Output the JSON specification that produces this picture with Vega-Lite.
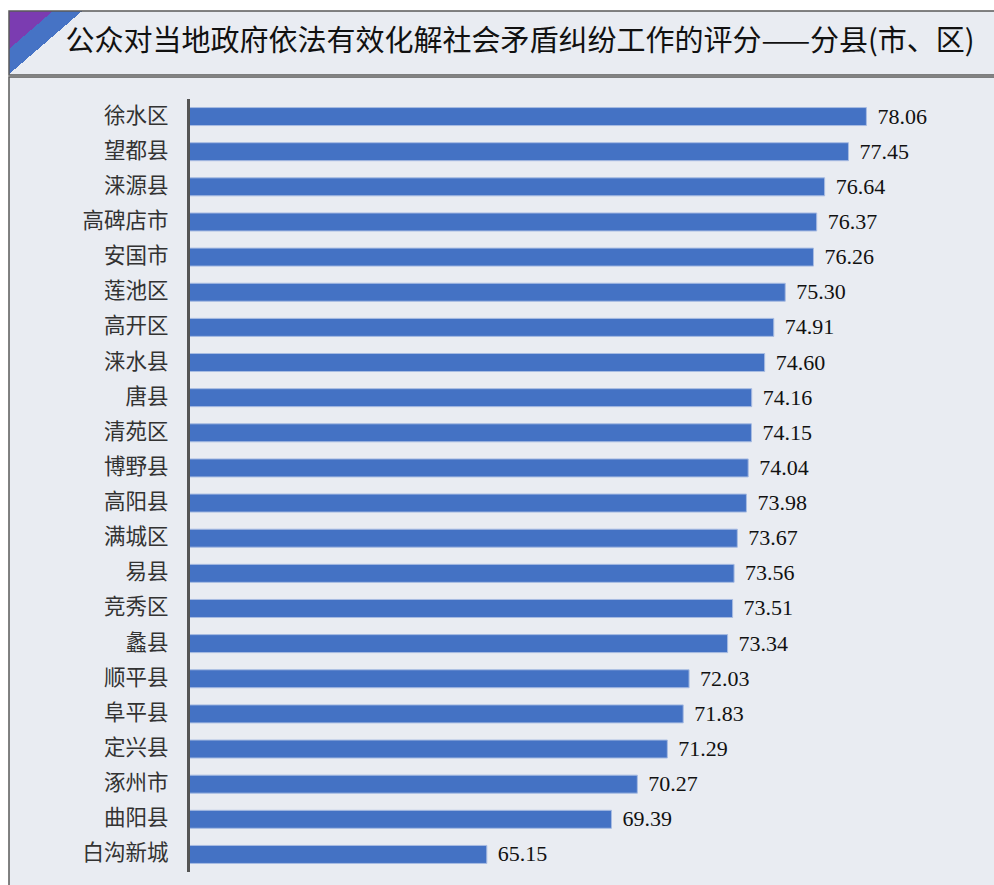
{
  "$schema": "https://vega.github.io/schema/vega-lite/v6.json",
  "background": "white",
  "padding": {"left": 8, "top": 10, "right": 0, "bottom": 0},
  "autosize": {"type": "pad"},
  "spacing": 0,
  "datasets": {
    "scores": [
      {"name": "徐水区", "score": 78.06},
      {"name": "望都县", "score": 77.45},
      {"name": "涞源县", "score": 76.64},
      {"name": "高碑店市", "score": 76.37},
      {"name": "安国市", "score": 76.26},
      {"name": "莲池区", "score": 75.30},
      {"name": "高开区", "score": 74.91},
      {"name": "涞水县", "score": 74.60},
      {"name": "唐县", "score": 74.16},
      {"name": "清苑区", "score": 74.15},
      {"name": "博野县", "score": 74.04},
      {"name": "高阳县", "score": 73.98},
      {"name": "满城区", "score": 73.67},
      {"name": "易县", "score": 73.56},
      {"name": "竞秀区", "score": 73.51},
      {"name": "蠡县", "score": 73.34},
      {"name": "顺平县", "score": 72.03},
      {"name": "阜平县", "score": 71.83},
      {"name": "定兴县", "score": 71.29},
      {"name": "涿州市", "score": 70.27},
      {"name": "曲阳县", "score": 69.39},
      {"name": "白沟新城", "score": 65.15}
    ],
    "heading": [
      {"title": "公众对当地政府依法有效化解社会矛盾纠纷工作的评分——分县(市、区)"}
    ]
  },
  "vconcat": [
    {
      "width": 990,
      "height": 64,
      "view": {
        "stroke": "#5a5a5a",
        "strokeWidth": 1.5,
        "fill": {
          "gradient": "linear",
          "x1": 0, "y1": 0, "x2": 0.1, "y2": 0.007485,
          "stops": [
            {"offset": 0, "color": "#7b3cb1"},
            {"offset": 0.442, "color": "#7b3cb1"},
            {"offset": 0.442, "color": "#4673c5"},
            {"offset": 0.735, "color": "#4673c5"},
            {"offset": 0.735, "color": "#e9ecf2"},
            {"offset": 1, "color": "#e9ecf2"}
          ]
        }
      },
      "data": {"name": "heading"},
      "mark": {
        "type": "text",
        "font": "Noto Sans CJK SC",
        "fontSize": 29,
        "color": "#111111",
        "align": "center",
        "baseline": "middle",
        "dx": 16,
        "dy": -1
      },
      "encoding": {
        "text": {"field": "title", "type": "nominal"}
      }
    },
    {
      "width": 990,
      "height": 817,
      "view": {"stroke": "#5a5a5a", "strokeWidth": 1.5, "fill": "#e9ecf2"},
      "data": {"name": "scores"},
      "encoding": {
        "y": {
          "field": "name",
          "type": "nominal",
          "sort": null,
          "scale": {"paddingInner": 0.488, "paddingOuter": 0.87},
          "axis": {
            "title": null,
            "offset": -180,
            "domain": false,
            "ticks": false,
            "tickSize": 0,
            "labelPadding": 21,
            "labelFont": "Noto Sans CJK SC",
            "labelFontSize": 21.5,
            "labelColor": "#333333",
            "grid": false
          }
        }
      },
      "layer": [
        {
          "mark": {"type": "bar", "color": "#4472c4", "stroke": "#a8bce2", "strokeWidth": 1},
          "encoding": {
            "x": {
              "field": "score",
              "type": "quantitative",
              "scale": {"domain": [48.9, 82.57], "nice": false, "zero": false},
              "axis": null
            },
            "x2": {"datum": 55}
          }
        },
        {
          "mark": {
            "type": "text",
            "align": "left",
            "baseline": "middle",
            "dx": 11,
            "font": "Liberation Serif",
            "fontSize": 22,
            "color": "#111111"
          },
          "encoding": {
            "x": {"field": "score", "type": "quantitative"},
            "text": {"field": "score", "type": "quantitative", "format": ".2f"}
          }
        },
        {
          "mark": {"type": "rule", "color": "#555555", "strokeWidth": 2},
          "encoding": {
            "x": {"datum": 55},
            "y": {"datum": "徐水区", "bandPosition": -0.477},
            "y2": {"datum": "白沟新城", "bandPosition": 1.477}
          }
        }
      ]
    }
  ]
}
